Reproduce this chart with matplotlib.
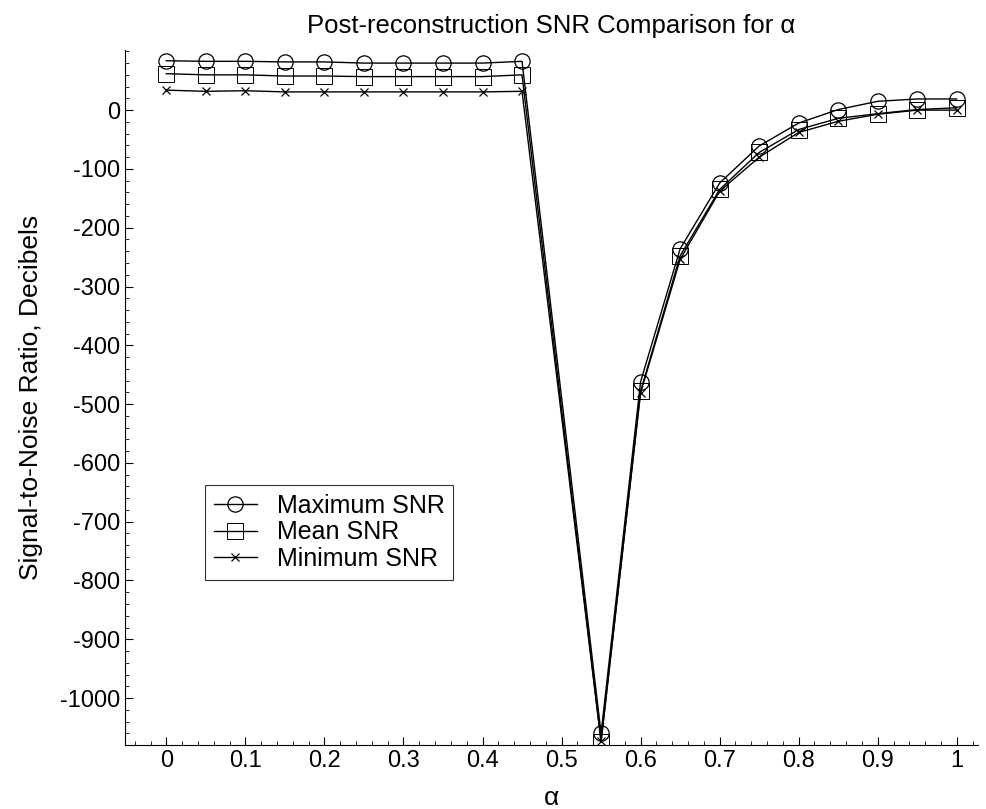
"""Post-reconstruction SNR comparison for alpha"""
import matplotlib
matplotlib.use('Agg')
import matplotlib.pyplot as plt
from matplotlib.ticker import MultipleLocator

plt.rcParams['font.family'] = ['Liberation Sans', 'DejaVu Sans']
plt.rcParams['axes.unicode_minus'] = False

# alpha values (no sample at 0.5)
alpha = [0, 0.05, 0.1, 0.15, 0.2, 0.25, 0.3, 0.35, 0.4, 0.45,
         0.55, 0.6, 0.65, 0.7, 0.75, 0.8, 0.85, 0.9, 0.95, 1.0]

max_snr = [84, 83, 83, 82, 82, 80, 80, 80, 80, 83,
           -1060, -462, -236, -124, -61, -22, 1, 15, 19, 19]
mean_snr = [62, 60, 60, 58, 58, 57, 57, 57, 57, 60,
            -1075, -478, -248, -135, -72, -33, -14, -6, 1, 4]
min_snr = [34, 32, 33, 31, 31, 31, 31, 31, 31, 32,
           -1073, -481, -254, -138, -80, -38, -19, -7, 0, 0]

x_ticks = [0, 0.1, 0.2, 0.3, 0.4, 0.5, 0.6, 0.7, 0.8, 0.9, 1.0]
x_labels = ['0', '0.1', '0.2', '0.3', '0.4', '0.5', '0.6', '0.7', '0.8', '0.9', '1']
y_ticks = [0, -100, -200, -300, -400, -500, -600, -700, -800, -900, -1000]

fig = plt.figure(figsize=(9.86, 8.09), dpi=100)
ax = fig.add_axes([0.127, 0.079, 0.865, 0.859])

ax.plot(alpha, max_snr, color='black', lw=1, marker='o', ms=11,
        mfc='none', mec='black', mew=0.9, label='Maximum SNR')
ax.plot(alpha, mean_snr, color='black', lw=1, marker='s', ms=11,
        mfc='none', mec='black', mew=0.7, label='Mean SNR')
ax.plot(alpha, min_snr, color='black', lw=1, marker='x', ms=6,
        mec='black', mew=0.9, label='Minimum SNR')

ax.set_xlim(-0.052, 1.027)
ax.set_ylim(-1080, 102)

ax.set_xticks(x_ticks)
ax.set_xticklabels(x_labels)
ax.set_yticks(y_ticks)
ax.xaxis.set_minor_locator(MultipleLocator(0.02))
ax.yaxis.set_minor_locator(MultipleLocator(20))
ax.tick_params(which='major', direction='in', length=6, width=0.8, labelsize=17)
ax.tick_params(which='minor', direction='in', length=3, width=0.6)

for side in ['top', 'right']:
    ax.spines[side].set_visible(False)
for side in ['left', 'bottom']:
    ax.spines[side].set_linewidth(0.8)

ax.set_title('Post-reconstruction SNR Comparison for \u03b1', fontsize=18.5, pad=12)
ax.set_xlabel('\u03b1', fontsize=19, labelpad=10)
ax.set_ylabel('Signal-to-Noise Ratio, Decibels', fontsize=19, labelpad=12)

leg = ax.legend(loc='upper left', bbox_to_anchor=(0.094, 0.374), borderaxespad=0,
                fontsize=18, frameon=True, fancybox=False, edgecolor='black',
                handlelength=1.7, handletextpad=0.8, labelspacing=0.1,
                borderpad=0.35)
leg.get_frame().set_linewidth(0.8)

plt.savefig('out.png', dpi=100)
